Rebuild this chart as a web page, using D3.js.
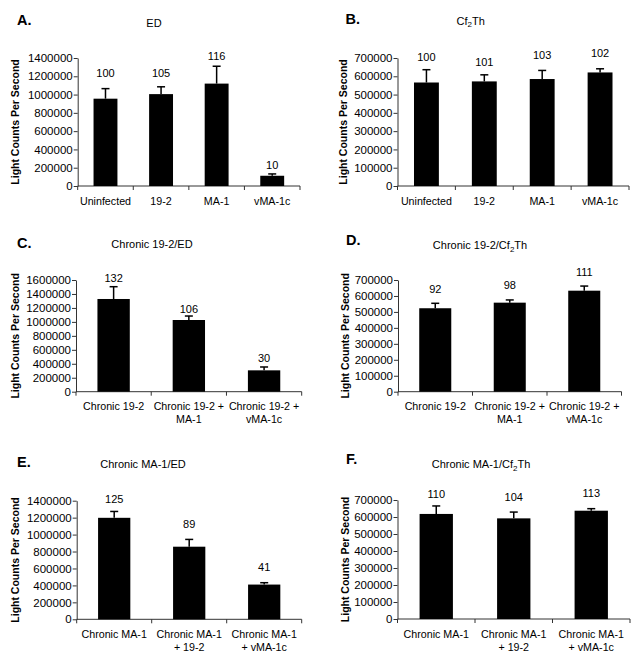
<!DOCTYPE html>
<html><head><meta charset="utf-8">
<script src="https://cdn.jsdelivr.net/npm/d3@7/dist/d3.min.js"></script>
<style>body{margin:0;background:#fff}svg{display:block;font-family:"Liberation Sans",Arial,sans-serif}</style>
</head><body><svg id="c" width="639" height="659"></svg>
<script>
// ---- data ----
const catsA = ["Uninfected","19-2","MA-1","vMA-1c"];
const valsA = [955000,1005000,1120000,112000];
const errA  = [110000,80000,190000,20000];
const lblA  = ["100","105","116","10"];
const lblLevelA = [1239000,1239000,1422000,230000];
const ticksA = [0,200000,400000,600000,800000,1000000,1200000,1400000];

const catsB = ["Uninfected","19-2","MA-1","vMA-1c"];
const valsB = [566000,572000,585000,621000];
const errB  = [70000,36000,47000,20000];
const lblB  = ["100","101","103","102"];
const lblLevelB = [704000,680000,716000,726000];
const ticksB = [0,100000,200000,300000,400000,500000,600000,700000];

const catsC = ["Chronic 19-2","Chronic 19-2 +\nMA-1","Chronic 19-2 +\nvMA-1c"];
const valsC = [1328000,1027000,306000];
const errC  = [176000,57000,48000];
const lblC  = ["132","106","30"];
const lblLevelC = [1633000,1185000,478000];
const ticksC = [0,200000,400000,600000,800000,1000000,1200000,1400000,1600000];

const catsD = ["Chronic 19-2","Chronic 19-2 +\nMA-1","Chronic 19-2 +\nvMA-1c"];
const valsD = [523000,558000,633000];
const errD  = [31000,17000,29000];
const lblD  = ["92","98","111"];
const lblLevelD = [644000,669000,748000];
const ticksD = [0,100000,200000,300000,400000,500000,600000,700000];

const catsE = ["Chronic MA-1","Chronic MA-1\n+ 19-2","Chronic MA-1\n+ vMA-1c"];
const valsE = [1198000,857000,410000];
const errE  = [75000,86000,22000];
const lblE  = ["125","89","41"];
const lblLevelE = [1420000,1125000,621000];
const ticksE = [0,200000,400000,600000,800000,1000000,1200000,1400000];

const catsF = ["Chronic MA-1","Chronic MA-1\n+ 19-2","Chronic MA-1\n+ vMA-1c"];
const valsF = [618000,592000,637000];
const errF  = [47000,37000,12000];
const lblF  = ["110","104","113"];
const lblLevelF = [734000,719000,743000];
const ticksF = [0,100000,200000,300000,400000,500000,600000,700000];

const yTitle = "Light Counts Per Second";

// ---- layout ----
const panels = [
  {letter:"A.", title:["ED"], cats:catsA, vals:valsA, err:errA, lbl:lblA, lv:lblLevelA, ticks:ticksA,
   x0:77.7, x1:300, y0:186, y1:58, lx:17, ly:25, tx:154, ty:26.5, ylx:15},
  {letter:"B.", title:["Cf","2","Th"], cats:catsB, vals:valsB, err:errB, lbl:lblB, lv:lblLevelB, ticks:ticksB,
   x0:397.5, x1:629, y0:186, y1:58, lx:345.5, ly:23.5, tx:470.7, ty:24.5, ylx:343},
  {letter:"C.", title:["Chronic 19-2/ED"], cats:catsC, vals:valsC, err:errC, lbl:lblC, lv:lblLevelC, ticks:ticksC,
   x0:76, x1:301.7, y0:391.7, y1:280, lx:17, ly:247.5, tx:152, ty:248, ylx:15},
  {letter:"D.", title:["Chronic 19-2/Cf","2","Th"], cats:catsD, vals:valsD, err:errD, lbl:lblD, lv:lblLevelD, ticks:ticksD,
   x0:398, x1:621.5, y0:391.7, y1:280, lx:346, ly:245, tx:480, ty:249, ylx:345},
  {letter:"E.", title:["Chronic MA-1/ED"], cats:catsE, vals:valsE, err:errE, lbl:lblE, lv:lblLevelE, ticks:ticksE,
   x0:76.7, x1:301.7, y0:619.3, y1:500.7, lx:17, ly:467, tx:143, ty:468.3, ylx:15},
  {letter:"F.", title:["Chronic MA-1/Cf","2","Th"], cats:catsF, vals:valsF, err:errF, lbl:lblF, lv:lblLevelF, ticks:ticksF,
   x0:397.5, x1:630, y0:619, y1:500, lx:346, ly:464.3, tx:481, ty:468.3, ylx:345}
];

const svg = d3.select("#c");

panels.forEach(p => {
  const g = svg.append("g");
  const ymax = p.ticks[p.ticks.length-1];
  const x = d3.scaleBand().domain(p.cats).range([p.x0, p.x1]).paddingInner(0.57).paddingOuter(0.285);
  const y = d3.scaleLinear().domain([0, ymax]).range([p.y0, p.y1]);

  // panel letter
  g.append("text").attr("x", p.lx).attr("y", p.ly).attr("font-size", 14.5).attr("font-weight", "bold").text(p.letter);

  // title
  const t = g.append("text").attr("x", p.tx).attr("y", p.ty).attr("text-anchor","middle").attr("font-size", 11);
  if (p.title.length === 1) t.text(p.title[0]);
  else {
    t.append("tspan").text(p.title[0]);
    t.append("tspan").attr("font-size", 8).attr("dy", 2.5).text(p.title[1]);
    t.append("tspan").attr("dy", -2.5).text(p.title[2]);
  }

  // y axis
  const ya = g.append("g").attr("transform", `translate(${p.x0},0)`)
    .call(d3.axisLeft(y).tickValues(p.ticks).tickSize(4).tickSizeOuter(0).tickFormat(d3.format("d")));
  ya.selectAll("text").attr("font-size", 11.5).attr("font-family", "Liberation Sans, Arial, sans-serif").attr("fill","#000").attr("x", -5);
  ya.selectAll("line").attr("stroke", "#333");
  ya.select(".domain").attr("stroke", "#333");

  // x axis line
  g.append("line").attr("x1", p.x0).attr("x2", p.x1).attr("y1", p.y0).attr("y2", p.y0).attr("stroke", "#333");
  // boundary ticks
  const step = x.step();
  d3.range(p.cats.length + 1).forEach(i => {
    const bx = x(p.cats[0]) - x.bandwidth()*0 - (step - x.bandwidth())/2 + i*step;
    g.append("line").attr("x1", bx).attr("x2", bx).attr("y1", p.y0).attr("y2", p.y0 + 4).attr("stroke", "#333");
  });

  // category labels
  p.cats.forEach(c => {
    const lines = c.split("\n");
    const tx = g.append("text").attr("text-anchor","middle").attr("font-size", 10.7)
      .attr("x", x(c) + x.bandwidth()/2).attr("y", p.y0 + 18.5);
    lines.forEach((l, i) => tx.append("tspan").attr("x", x(c) + x.bandwidth()/2).attr("dy", i === 0 ? 0 : 13).text(l));
  });

  // bars
  g.selectAll("rect.bar").data(p.vals).join("rect").attr("class","bar")
    .attr("x", (d,i) => x(p.cats[i])).attr("width", x.bandwidth())
    .attr("y", d => y(d)).attr("height", d => p.y0 - y(d)).attr("fill", "#000");

  // error bars
  p.vals.forEach((v, i) => {
    const cx = x(p.cats[i]) + x.bandwidth()/2;
    g.append("line").attr("x1", cx).attr("x2", cx).attr("y1", y(v)).attr("y2", y(v + p.err[i])).attr("stroke","#000").attr("stroke-width", 1.5);
    g.append("line").attr("x1", cx - 4).attr("x2", cx + 4).attr("y1", y(v + p.err[i])).attr("y2", y(v + p.err[i])).attr("stroke","#000").attr("stroke-width", 1.5);
  });

  // value labels
  p.lbl.forEach((l, i) => {
    g.append("text").attr("text-anchor","middle").attr("font-size", 11)
      .attr("x", x(p.cats[i]) + x.bandwidth()/2).attr("y", y(p.lv[i])).attr("dy", "0.35em").text(l);
  });

  // y title
  g.append("text").attr("transform", `translate(${p.ylx},${(p.y0+p.y1)/2}) rotate(-90)`)
    .attr("text-anchor","middle").attr("dy","0.35em").attr("font-size", 10.5).attr("font-weight","bold").text(yTitle);
});
</script></body></html>
